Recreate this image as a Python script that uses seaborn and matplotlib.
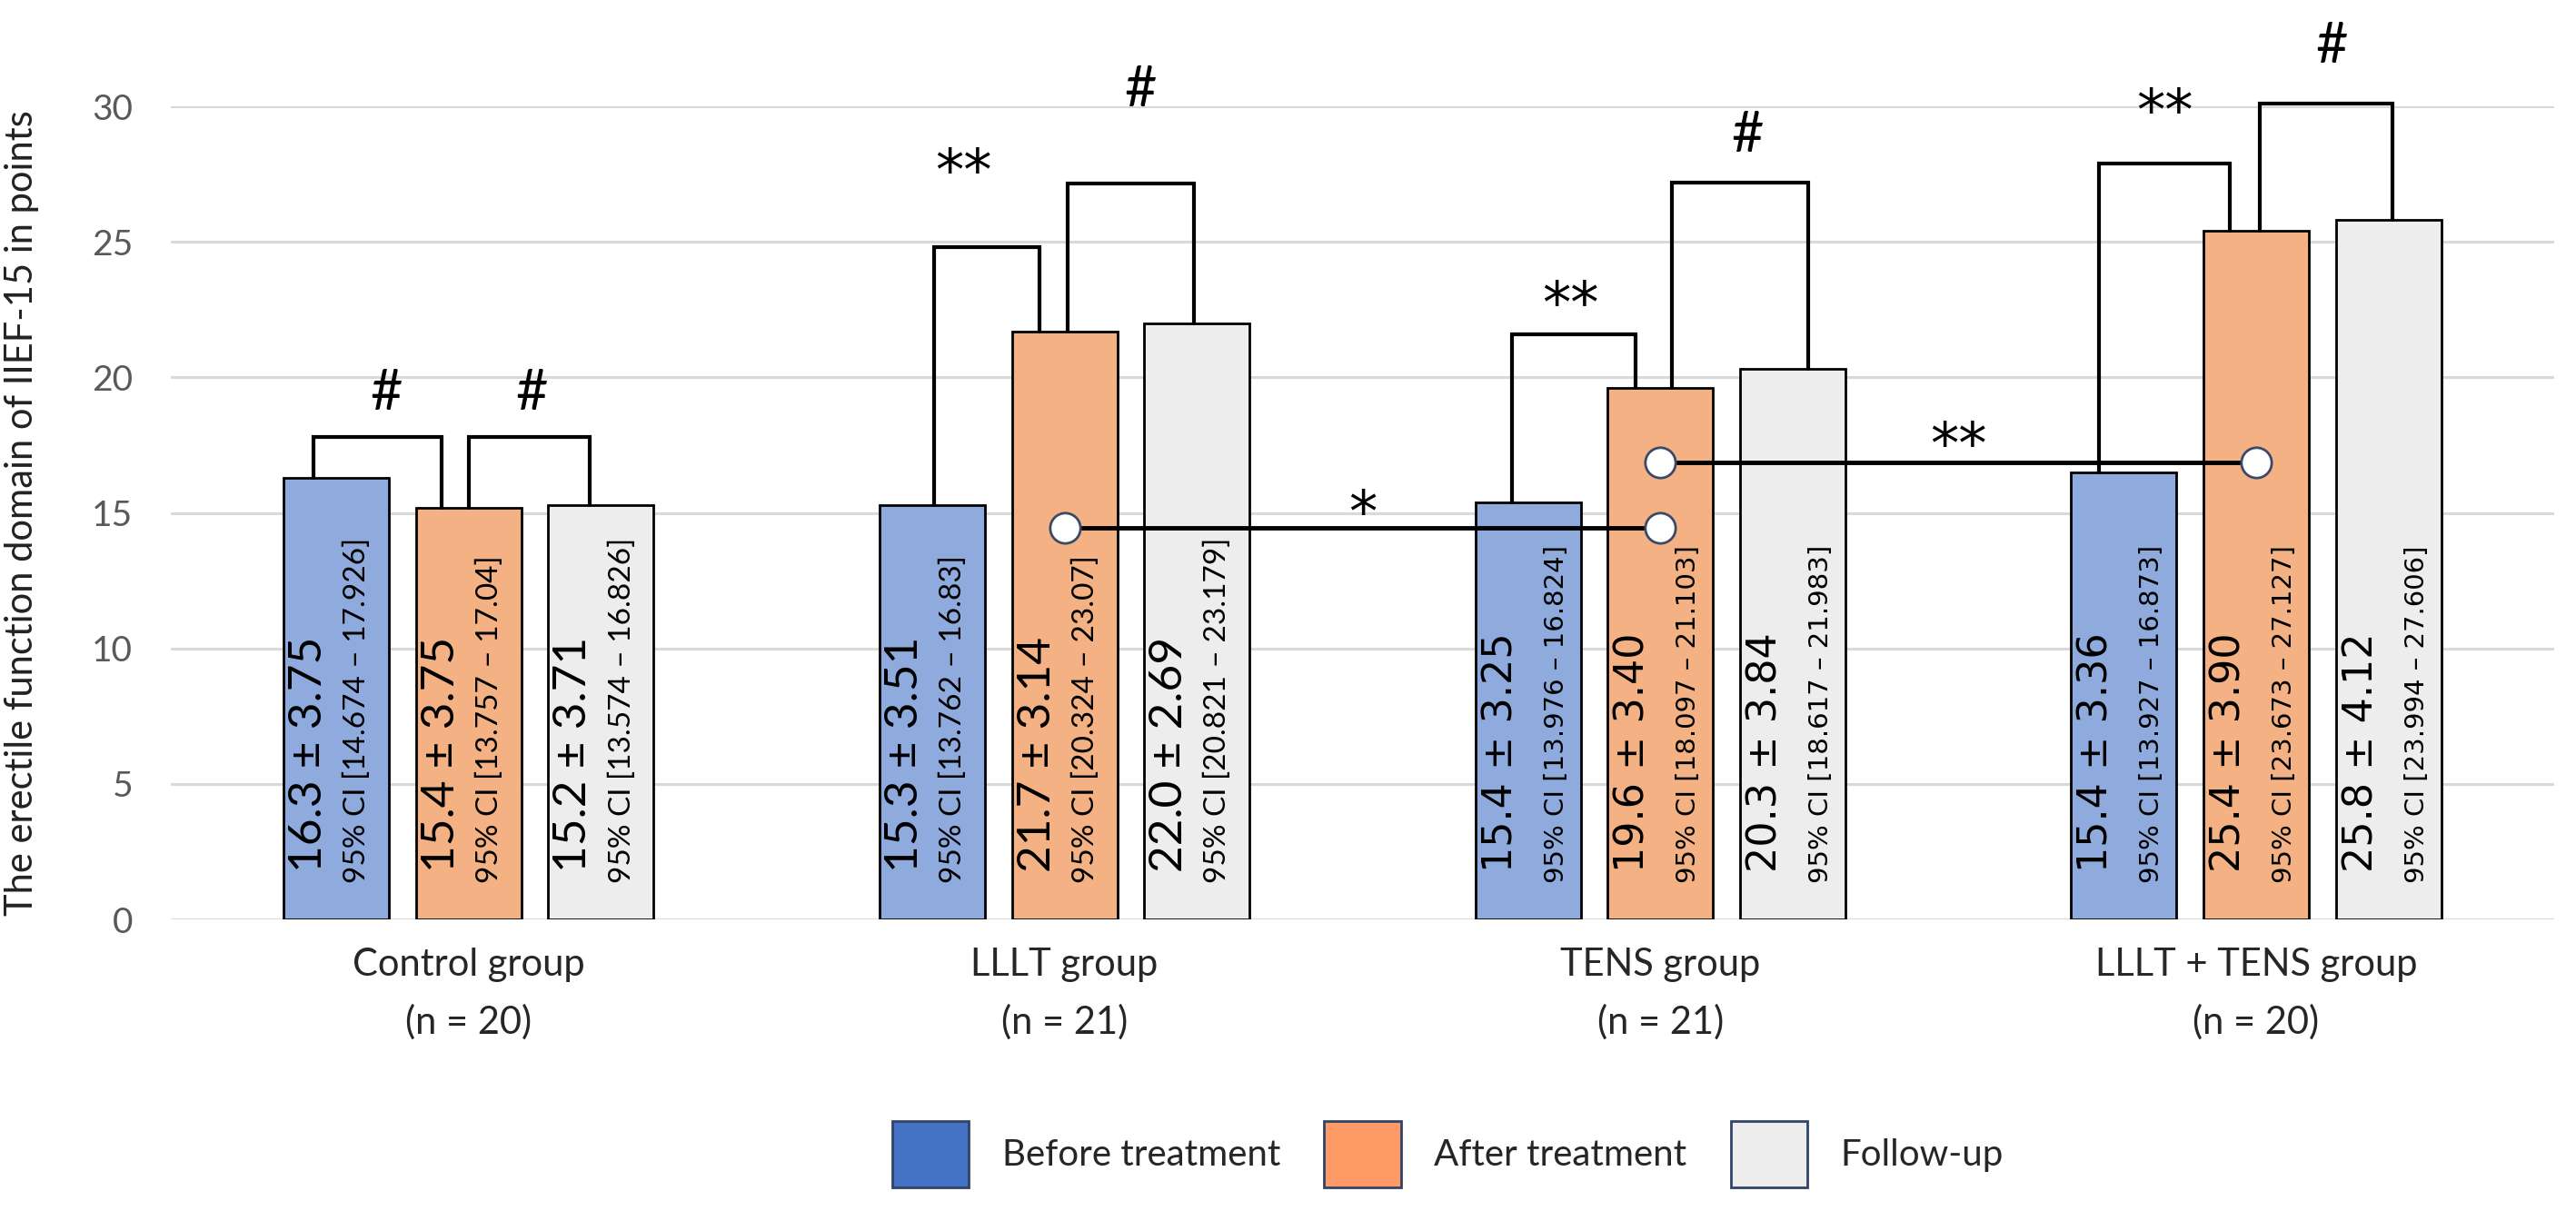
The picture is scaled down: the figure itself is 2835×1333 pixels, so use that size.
import numpy as np
import pandas as pd
import matplotlib.pyplot as plt
from matplotlib.patches import Patch
import seaborn as sns

groups = ['Control group', 'LLLT group', 'TENS group', 'LLLT + TENS group']
group_n = [20, 21, 21, 20]
phases = ['Before treatment', 'After treatment', 'Follow-up']

# bar heights as drawn in the figure
before = [16.3, 15.3, 15.4, 16.5]
after = [15.2, 21.7, 19.6, 25.4]
follow = [15.3, 22.0, 20.3, 25.8]

# labels printed inside the bars
mean_sd = [
    ['16.3 ± 3.75', '15.4 ± 3.75', '15.2 ± 3.71'],
    ['15.3 ± 3.51', '21.7 ± 3.14', '22.0 ± 2.69'],
    ['15.4 ± 3.25', '19.6 ± 3.40', '20.3 ± 3.84'],
    ['15.4 ± 3.36', '25.4 ± 3.90', '25.8 ± 4.12'],
]
ci = [
    ['95% CI [14.674 – 17.926]', '95% CI [13.757 – 17.04]', '95% CI [13.574 – 16.826]'],
    ['95% CI [13.762 – 16.83]', '95% CI [20.324 – 23.07]', '95% CI [20.821 – 23.179]'],
    ['95% CI [13.976 – 16.824]', '95% CI [18.097 – 21.103]', '95% CI [18.617 – 21.983]'],
    ['95% CI [13.927 – 16.873]', '95% CI [23.673 – 27.127]', '95% CI [23.994 – 27.606]'],
]

# within-group brackets: group, left bar, right bar, bracket top, mark
brackets = [
    (0, 0, 1, 17.8, '#'), (0, 1, 2, 17.8, '#'),
    (1, 0, 1, 24.8, '**'), (1, 1, 2, 27.15, '#'),
    (2, 0, 1, 21.6, '**'), (2, 1, 2, 27.2, '#'),
    (3, 0, 1, 27.9, '**'), (3, 1, 2, 30.1, '#'),
]
# bracket leg shifts and mark placement (pixels from bar / group centre, mark centre value)
bracket_layout = [
    (-25, -30, -91, 19.4), (0, -12, 69, 19.4),
    (2, -28, -111, 28.2), (3, -3, 84, 30.6),
    (-18, -27, -99, 23.3), (13, 17, 96, 28.9),
    (-27, -29, -101, 30.4), (4, 4, 83, 32.2),
]
# between-group comparisons of the after-treatment bars
links = [(1, 2, 14.45, '*', 15.6), (2, 3, 16.85, '**', 18.1)]

bar_colors = ['#8FAADC', '#F4B183', '#EDEDED']
legend_colors = ['#4472C4', '#FF9966', '#EDEDED']

df = pd.DataFrame({
    'group': groups * 3,
    'phase': np.repeat(phases, len(groups)),
    'score': before + after + follow,
})

sns.set_style('white')
plt.rcParams['font.family'] = ['Lato', 'DejaVu Sans']

fig = plt.figure(figsize=(28.35, 13.33), dpi=100)
ax = fig.add_axes([0.0663, 0.2408, 0.9252, 0.6714])

sns.barplot(data=df, x='group', y='score', hue='phase', order=groups, hue_order=phases,
            palette=bar_colors, saturation=1, width=0.666, gap=0.203, errorbar=None,
            edgecolor='black', linewidth=2, legend=False, ax=ax, zorder=2)

ax.set_xlim(-0.5, 3.5)
ax.set_ylim(0, 30)
ax.set_yticks(range(0, 31, 5))
ax.yaxis.grid(True, color='#D9D9D9', lw=2.2)
ax.set_axisbelow(True)
sns.despine(ax=ax, left=True, bottom=True)
ax.tick_params(axis='both', length=0)
ax.tick_params(axis='y', labelsize=28, labelcolor='#595959', pad=30)
ax.set_xticks(range(len(groups)))
ax.set_xticklabels([f'{g}\n(n = {n})' for g, n in zip(groups, group_n)],
                   fontsize=30, linespacing=1.75)
ax.tick_params(axis='x', pad=22)
ax.set_xlabel('')
ax.set_ylabel('The erectile function domain of IIEF-15 in points', fontsize=30, color='#222222')
ax.yaxis.set_label_coords(-0.0553, 0.5)

px = 1 / 656  # one pixel in category units
centers = [[b.get_x() + b.get_width() / 2 for b in c] for c in ax.containers]
heights = [[b.get_height() for b in c] for c in ax.containers]

# value labels inside bars
for g in range(len(groups)):
    dejavu = g >= 2
    fam = 'DejaVu Sans' if dejavu else 'Lato'
    big, small = (32, 21) if dejavu else (37, 24)
    dx_small = 31 if dejavu else 23
    for h in range(len(phases)):
        x = centers[h][g]
        ax.text(x - 30 * px, 1.75, mean_sd[g][h], rotation=90, rotation_mode='anchor',
                ha='left', va='center', fontsize=big, family=fam, color='black', zorder=4)
        ax.text(x + dx_small * px, 1.35, ci[g][h], rotation=90, rotation_mode='anchor',
                ha='left', va='center', fontsize=small, family=fam, color='black', zorder=4)

# brackets
for (g, h1, h2, top, mark), (d1, d2, dm, ym) in zip(brackets, bracket_layout):
    x1 = centers[h1][g] + d1 * px
    x2 = centers[h2][g] + d2 * px
    ax.plot([x1, x1, x2, x2], [heights[h1][g], top, top, heights[h2][g]],
            color='black', lw=3, zorder=5, solid_joinstyle='miter', clip_on=False)
    fs = 44 if mark == '#' else 45
    fam = 'Lato' if mark == '#' else 'DejaVu Sans'
    yoff = 0 if mark == '#' else -0.7
    ax.text(centers[1][g] + dm * px, ym + yoff, mark, ha='center', va='center',
            fontsize=fs, family=fam, color='black', clip_on=False, zorder=5)

# between-group lines with circles
for g1, g2, y, mark, ym in links:
    xa, xb = centers[1][g1], centers[1][g2]
    ax.plot([xa, xb], [y, y], color='black', lw=3.5, zorder=6)
    ax.plot([xa, xb], [y, y], ls='none', marker='o', ms=24, mfc='white',
            mec='#3B4A66', mew=2, zorder=7)
    ax.text((xa + xb) / 2, ym - 0.7, mark, ha='center', va='center', fontsize=45,
            family='DejaVu Sans', color='black', zorder=6)

handles = [Patch(facecolor=c, edgecolor='#2F4468', lw=2, label=p)
           for c, p in zip(legend_colors, phases)]
fig.legend(handles=handles, loc='center', bbox_to_anchor=(0.562, 0.047), ncol=3,
           frameon=False, fontsize=29, handlelength=2.1, handleheight=2.4,
           handletextpad=0.9, columnspacing=1.2)

fig.savefig('out.png', dpi=100)
